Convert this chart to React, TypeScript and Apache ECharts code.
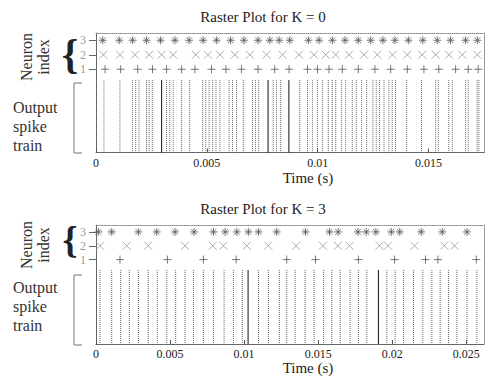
import React, { useEffect, useRef } from "react";
import * as echarts from "echarts";

// Spike times in milliseconds
const k0Neuron3 = [0.30, 1.05, 1.65, 2.28, 2.91, 3.56, 4.20, 4.83, 5.44, 6.07, 6.67, 7.31, 7.84, 8.26, 8.74, 9.58, 10.06, 10.66, 11.23, 11.83, 12.39, 12.94, 13.48, 14.09, 14.74, 15.39, 15.99, 16.67, 17.20];
const k0Neuron2 = [0.33, 1.08, 1.76, 2.40, 2.96, 3.48, 4.50, 5.05, 5.59, 6.26, 6.94, 7.69, 8.41, 9.16, 9.83, 10.36, 10.81, 11.41, 12.09, 12.69, 13.37, 14.04, 14.71, 15.32, 15.92, 16.52, 17.20];
const k0Neuron1 = [0.41, 1.11, 1.88, 2.55, 3.18, 3.86, 4.46, 5.21, 5.86, 6.56, 7.31, 8.06, 8.71, 9.54, 9.99, 10.51, 11.11, 11.83, 12.58, 13.29, 14.04, 14.79, 15.46, 16.22, 16.79, 17.24];
const k0Output = [0.36, 1.08, 1.65, 1.79, 1.94, 2.28, 2.40, 2.54, 3.18, 3.33, 3.48, 3.86, 4.23, 4.81, 4.95, 5.10, 5.26, 5.41, 5.59, 6.00, 6.16, 6.34, 6.64, 7.06, 7.19, 7.34, 7.99, 8.14, 8.33, 9.19, 9.54, 9.76, 9.99, 10.21, 10.48, 10.66, 10.81, 11.08, 11.26, 11.56, 11.74, 11.98, 12.21, 12.49, 12.64, 12.79, 12.99, 13.21, 13.36, 13.51, 14.01, 14.68, 15.32, 15.44, 15.91, 16.07, 16.67, 16.79, 17.19, 17.27];
const k0OutputOverlap = [2.96, 7.76, 8.70];

const k3Neuron3 = [0.16, 1.06, 2.86, 4.10, 5.34, 6.62, 7.93, 8.72, 9.51, 10.29, 10.97, 12.20, 14.15, 15.77, 16.35, 17.69, 18.25, 18.90, 19.94, 20.51, 21.96, 23.38, 25.05];
const k3Neuron2 = [0.27, 2.07, 3.53, 6.01, 7.88, 8.60, 10.18, 11.64, 13.51, 15.32, 16.33, 17.12, 19.14, 19.71, 21.51, 23.53, 24.21];
const k3Neuron1 = [1.62, 4.82, 7.25, 9.46, 12.88, 14.82, 17.72, 20.16, 22.25, 23.09, 25.68];
const k3Output = [0.27, 1.06, 1.67, 2.25, 2.86, 3.53, 4.14, 4.78, 5.38, 6.01, 6.58, 7.25, 7.93, 8.65, 9.28, 9.88, 10.97, 11.64, 12.38, 12.88, 13.45, 14.12, 14.73, 15.36, 15.92, 16.49, 17.16, 17.72, 18.29, 19.64, 20.20, 20.76, 21.44, 22.07, 22.68, 23.24, 23.80, 24.37, 25.05, 25.72];
const k3OutputOverlap = [10.27, 19.07];

const neuronTicks = [1, 2, 3];
const titles = ["Raster Plot for K = 0", "Raster Plot for K = 3"];
const xMaxes = [0.0175, 0.0262];
const xTickStep = 0.005;

const FONT = "Liberation Serif";
const ASTERISK = "path://M5,0L5,10M0,5L10,5M1.5,1.5L8.5,8.5M1.5,8.5L8.5,1.5";
const CROSS = "path://M0,0L10,10M0,10L10,0";
const PLUS = "path://M5,0L5,10M0,5L10,5";

export default function App() {
  const ref = useRef<HTMLDivElement>(null);
  useEffect(() => {
    if (!ref.current) return;
    const chart = echarts.init(ref.current, null, { renderer: "svg" });

    const grids = [
      { left: 96, right: 4, top: 33, height: 119.5 },
      { left: 96, right: 4, top: 225, height: 119 },
    ];
    const yMins = [-4.74, -5.1];
    const yMax = 3.5;
    const spikeTop = 0.25;

    const xAxis: any[] = [];
    const yAxis: any[] = [];
    grids.forEach((_, g) => {
      xAxis.push({
        type: "value", gridIndex: g, position: "bottom", min: 0, max: xMaxes[g], interval: xTickStep,
        axisLine: { show: true, onZero: false, lineStyle: { color: "#666", width: 1 } },
        axisTick: { show: true, inside: true, length: 4, lineStyle: { color: "#555" } },
        axisLabel: { show: true, showMaxLabel: false, color: "#222", fontFamily: FONT, fontSize: 12, margin: 4 },
        splitLine: { show: false },
      });
      xAxis.push({
        type: "value", gridIndex: g, position: "top", min: 0, max: xMaxes[g],
        axisLine: { show: true, onZero: false, lineStyle: { color: "#888", width: 1, type: [1, 1] } },
        axisTick: { show: false }, axisLabel: { show: false }, splitLine: { show: false },
      });
      yAxis.push({
        type: "value", gridIndex: g, position: "left", min: yMins[g], max: yMax,
        axisLine: { show: true, onZero: false, lineStyle: { color: "#666", width: 1 } },
        axisTick: { show: true, inside: false, length: 7, customValues: neuronTicks, lineStyle: { color: "#666" } },
        axisLabel: { show: true, customValues: neuronTicks, color: "#999", fontFamily: FONT, fontSize: 12, margin: 10 },
        splitLine: { show: false },
      });
      yAxis.push({
        type: "value", gridIndex: g, position: "right", min: yMins[g], max: yMax,
        axisLine: { show: true, onZero: false, lineStyle: { color: "#999", width: 1 } },
        axisTick: { show: false }, axisLabel: { show: false }, splitLine: { show: false },
      });
    });

    const rasterSeries = (g: number, times: number[], row: number, symbol: string, color: string) => ({
      type: "scatter", xAxisIndex: g * 2, yAxisIndex: g * 2, symbol, symbolSize: 8,
      data: times.map((t) => [t / 1000, row]),
      itemStyle: { color: "transparent", borderColor: color, borderWidth: 1 },
      silent: true,
    });

    const spikeSeries = (g: number, times: number[], color: string, dash: number[] | null) => ({
      type: "custom", xAxisIndex: g * 2, yAxisIndex: g * 2, silent: true,
      data: times.map((t) => [t / 1000, 0]),
      encode: { x: 0, y: 1 },
      renderItem: (_p: any, api: any) => {
        const x = api.value(0);
        const a = api.coord([x, spikeTop]);
        const b = api.coord([x, yMins[g]]);
        return {
          type: "line",
          shape: { x1: a[0], y1: a[1], x2: b[0], y2: b[1] },
          style: { stroke: color, lineWidth: 1, lineDash: dash || undefined },
        };
      },
    });

    const series: any[] = [
      rasterSeries(0, k0Neuron3, 3, ASTERISK, "#555"),
      rasterSeries(0, k0Neuron2, 2, CROSS, "#999"),
      rasterSeries(0, k0Neuron1, 1, PLUS, "#555"),
      spikeSeries(0, k0Output, "#666", [1, 1]),
      spikeSeries(0, k0OutputOverlap, "#111", null),
      rasterSeries(1, k3Neuron3, 3, ASTERISK, "#555"),
      rasterSeries(1, k3Neuron2, 2, CROSS, "#999"),
      rasterSeries(1, k3Neuron1, 1, PLUS, "#555"),
      spikeSeries(1, k3Output, "#666", [1, 1]),
      spikeSeries(1, k3OutputOverlap, "#111", null),
    ];

    const offsets = [0, 192];
    const timeLabelY = [178, 368];
    const graphic: any[] = [];
    offsets.forEach((dy, g) => {
      graphic.push({
        type: "text", x: 263, y: 17 + dy,
        style: { text: titles[g], fontFamily: FONT, fontSize: 15, fill: "#222", align: "center", verticalAlign: "middle" },
      });
      graphic.push({
        type: "text", x: 35, y: 57 + dy - (g ? 4 : 0), rotation: Math.PI / 2,
        style: { text: "Neuron\nindex", fontFamily: FONT, fontSize: 16, lineHeight: 16.5, fill: "#333", align: "center", verticalAlign: "middle" },
      });
      graphic.push({
        type: "text", x: 70, y: 54 + dy - (g ? 6 : 0),
        style: { text: "{", fontFamily: FONT, fontSize: g ? 38 : 42, fontWeight: "bold", fill: "#222", align: "center", verticalAlign: "middle" },
      });
      graphic.push({
        type: "polyline",
        shape: { points: [[82, 83 + dy], [74, 83 + dy], [74, 153 + dy], [82, 153 + dy]] },
        style: { stroke: "#777", lineWidth: 1, fill: "none" },
      });
      graphic.push({
        type: "text", x: 13, y: 98 + dy - (g ? 12 : 0),
        style: { text: "Output\nspike\ntrain", fontFamily: FONT, fontSize: 16, lineHeight: 19, fill: "#333", align: "left", verticalAlign: "top" },
      });
      graphic.push({
        type: "text", x: 308, y: timeLabelY[g],
        style: { text: "Time (s)", fontFamily: FONT, fontSize: 15, fill: "#222", align: "center", verticalAlign: "middle" },
      });
    });

    chart.setOption({
      animation: false,
      backgroundColor: "#fff",
      grid: grids,
      xAxis,
      yAxis,
      series,
      graphic,
    });
    return () => chart.dispose();
  }, []);
  return <div ref={ref} style={{ position: "fixed", left: 0, top: 0, width: 488, height: 378 }} />;
}
